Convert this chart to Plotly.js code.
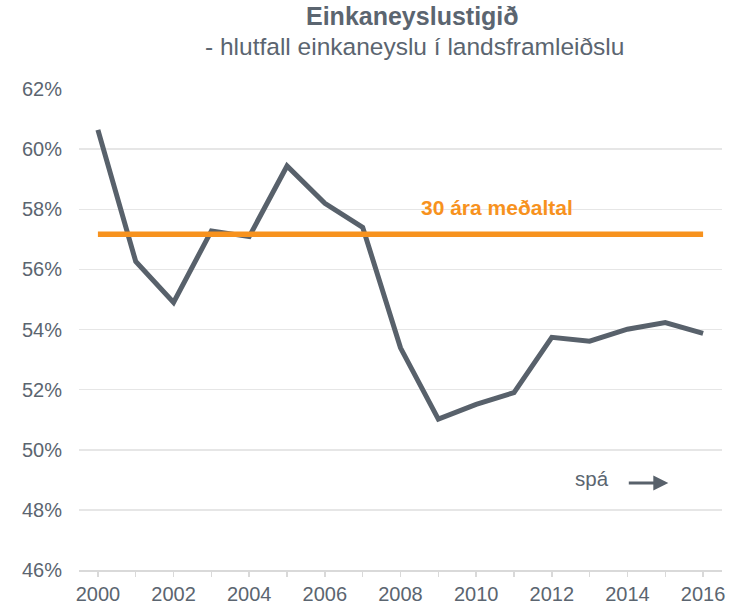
<!DOCTYPE html>
<html>
<head>
<meta charset="utf-8">
<script src="https://cdn.plot.ly/plotly-3.0.1.min.js"></script>
<style>html,body{margin:0;padding:0;background:#fff;}#chart{width:732px;height:605px;}</style>
</head>
<body>
<div id="chart"></div>
<script>
const years = [2000,2001,2002,2003,2004,2005,2006,2007,2008,2009,2010,2011,2012,2013,2014,2015,2016];
const consumptionShare = [60.64,56.26,54.90,57.28,57.09,59.44,58.20,57.40,53.39,51.02,51.51,51.90,53.74,53.61,54.01,54.23,53.87];
const avgYears = [2000,2016];
const avgValue = [57.17,57.17];
const xTickLabels = years.map(y => (y % 2 === 0 ? String(y) : ''));
const yTicks = [46,48,50,52,54,56,58,60,62];
const yTickLabels = yTicks.map(v => v + '%');

const txt = '#5b6570';
const font = 'Liberation Sans, Arial, sans-serif';

const data = [
  {x: years, y: consumptionShare, type: 'scatter', mode: 'lines',
   line: {color: '#58616b', width: 5}, hoverinfo: 'skip'},
  {x: avgYears, y: avgValue, type: 'scatter', mode: 'lines',
   line: {color: '#f7921e', width: 5.5}, hoverinfo: 'skip'}
];

const layout = {
  width: 732, height: 605,
  margin: {l: 79, r: 10, t: 89, b: 35},
  paper_bgcolor: '#fff', plot_bgcolor: '#fff',
  showlegend: false,
  font: {family: font, color: txt},
  xaxis: {
    range: [1999.5, 2016.5],
    tickvals: years, ticktext: xTickLabels,
    ticks: 'outside', ticklen: 5, tickcolor: '#d9d9d9', tickwidth: 1.5,
    showline: true, linecolor: '#d9d9d9', linewidth: 1.5,
    showgrid: false, zeroline: false,
    tickfont: {size: 20, color: txt}
  },
  yaxis: {
    range: [46, 62],
    tickvals: yTicks, ticktext: yTickLabels,
    showgrid: true, gridcolor: '#e6e6e6', gridwidth: 1.5,
    zeroline: false, ticks: '', ticklabelstandoff: 16,
    tickfont: {size: 20, color: txt}
  },
  annotations: [
    {text: '<b>Einkaneyslustigið</b>', xref: 'paper', yref: 'paper', x: 0.518, y: 1.151,
     xanchor: 'center', yanchor: 'middle', showarrow: false, font: {size: 25, color: txt}},
    {text: '- hlutfall einkaneyslu í landsframleiðslu', xref: 'paper', yref: 'paper', x: 0.521, y: 1.089,
     xanchor: 'center', yanchor: 'middle', showarrow: false, font: {size: 24.5, color: txt}},
    {text: '<b>30 ára meðaltal</b>', x: 2010.56, y: 58.07, xanchor: 'center', yanchor: 'middle',
     showarrow: false, font: {size: 21, color: '#f7921e'}},
    {text: 'spá', x: 2013.06, y: 49.03, xanchor: 'center', yanchor: 'middle',
     showarrow: false, font: {size: 20.5, color: txt}},
    {text: '', x: 2015.08, y: 48.89, ax: -41, ay: 0, showarrow: true,
     arrowhead: 2, arrowsize: 1, arrowwidth: 3, arrowcolor: '#58616b'}
  ]
};

Plotly.newPlot('chart', data, layout, {staticPlot: true, displayModeBar: false});
</script>
</body>
</html>
